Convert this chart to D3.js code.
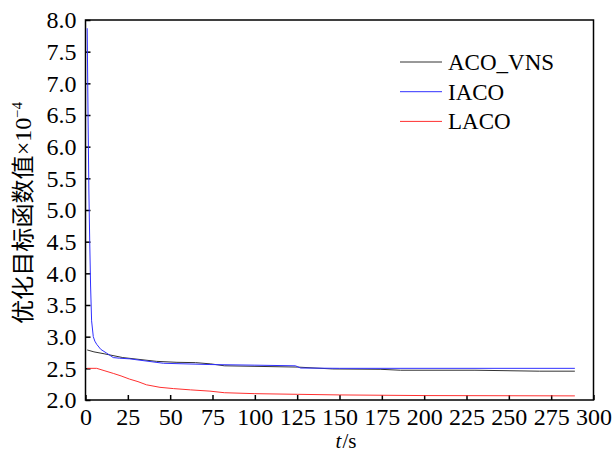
<!DOCTYPE html>
<html>
<head>
<meta charset="utf-8">
<script src="https://cdn.jsdelivr.net/npm/d3@7"></script>
<style>
  body { margin: 0; background: #fff; }
  svg { display: block; }
  .serif { font-family: "Liberation Serif", "Times New Roman", Times, serif; }
</style>
</head>
<body>
<div id="chart"></div>
<script>
// series (t in s, value x10^-4)
const acoT = [1, 5, 11, 22, 42, 54, 65, 74, 82, 125, 146, 174, 186, 230, 268, 289];
const acoV = [2.79, 2.76, 2.73, 2.67, 2.61, 2.595, 2.59, 2.57, 2.54, 2.52, 2.49, 2.485, 2.47, 2.47, 2.455, 2.455];

const iacoT = [1, 1.5, 2, 2.5, 3, 3.6, 4.6, 5.5, 6.6, 9, 12.5, 16.4, 20, 26, 46, 73.5, 100, 124, 127, 150, 289];
const iacoV = [7.87, 6.5, 5.3, 4.5, 3.8, 3.25, 3.0, 2.93, 2.88, 2.8, 2.74, 2.67, 2.66, 2.65, 2.58, 2.56, 2.55, 2.54, 2.505, 2.5, 2.5];

const lacoT = [1, 6.6, 11.5, 16.4, 21, 26, 31, 36, 44, 52, 62, 73.5, 82, 100, 125, 150, 200, 289];
const lacoV = [2.5, 2.5, 2.46, 2.42, 2.38, 2.33, 2.29, 2.24, 2.2, 2.18, 2.16, 2.14, 2.115, 2.1, 2.09, 2.08, 2.07, 2.065];

const seriesNames = ["ACO_VNS", "IACO", "LACO"];
const seriesColors = ["#333333", "#3030ff", "#ff3030"];

const xTicks = d3.range(0, 301, 25);
const yTicks = d3.range(2, 8.01, 0.5);

const width = 615;
const height = 452;
const margin = { top: 20, right: 21.5, bottom: 52, left: 85.5 };

const svg = d3.select("#chart")
  .append("svg")
  .attr("width", width)
  .attr("height", height);

const x = d3.scaleLinear().domain([0, 300]).range([margin.left, width - margin.right]);
const y = d3.scaleLinear().domain([2, 8]).range([height - margin.bottom, margin.top]);

// axes, ticks pointing inward
const xAxis = svg.append("g")
  .attr("transform", `translate(0,${height - margin.bottom})`)
  .call(d3.axisBottom(x).tickValues(xTicks).tickSizeInner(-5).tickSizeOuter(0).tickPadding(8));

const yAxis = svg.append("g")
  .attr("transform", `translate(${margin.left},0)`)
  .call(d3.axisLeft(y).tickValues(yTicks).tickFormat(d3.format(".1f")).tickSizeInner(-5).tickSizeOuter(0).tickPadding(9));

[xAxis, yAxis].forEach(ax => {
  ax.attr("font-family", null).attr("font-size", null);
  ax.select(".domain").remove();
  ax.selectAll(".tick line").attr("stroke", "#000").attr("stroke-width", 1.5);
  ax.selectAll(".tick text")
    .attr("class", "serif")
    .attr("fill", "#000")
    .style("font-size", "24px");
});

// frame
svg.append("rect")
  .attr("x", margin.left)
  .attr("y", margin.top)
  .attr("width", width - margin.left - margin.right)
  .attr("height", height - margin.top - margin.bottom)
  .attr("fill", "none")
  .attr("stroke", "#000")
  .attr("stroke-width", 1.5);

// lines
const line = d3.line().x(d => x(d[0])).y(d => y(d[1]));
const series = [
  d3.zip(acoT, acoV),
  d3.zip(iacoT, iacoV),
  d3.zip(lacoT, lacoV)
];

series.forEach((pts, i) => {
  svg.append("path")
    .datum(pts)
    .attr("fill", "none")
    .attr("stroke", seriesColors[i])
    .attr("stroke-width", 1)
    .attr("d", line);
});

// legend
const legend = svg.append("g").attr("transform", "translate(400,62)");
seriesNames.forEach((name, i) => {
  const row = legend.append("g").attr("transform", `translate(0,${i * 29.7})`);
  row.append("line")
    .attr("x1", 0).attr("x2", 42)
    .attr("stroke", seriesColors[i])
    .attr("stroke-width", 1);
  row.append("text")
    .attr("class", "serif")
    .attr("x", 48)
    .attr("y", 8)
    .style("font-size", "23px")
    .text(name);
});

// axis titles
const xl = svg.append("text")
  .attr("class", "serif")
  .attr("x", 346)
  .attr("y", 448)
  .attr("text-anchor", "middle")
  .style("font-size", "21px");
xl.append("tspan").style("font-style", "italic").text("t");
xl.append("tspan").attr("dx", 1).text("/s");

const yl = svg.append("text")
  .attr("class", "serif")
  .attr("transform", "translate(31,213) rotate(-90)")
  .attr("text-anchor", "middle")
  .attr("textLength", 222)
  .attr("lengthAdjust", "spacingAndGlyphs")
  .style("font-size", "23px");
yl.append("tspan").style("font-family", "'Noto Sans CJK SC', sans-serif").text("优化目标函数值");
yl.append("tspan").text("×10");
yl.append("tspan").style("font-size", "14px").attr("dy", -9).text("−4");
</script>
</body>
</html>
